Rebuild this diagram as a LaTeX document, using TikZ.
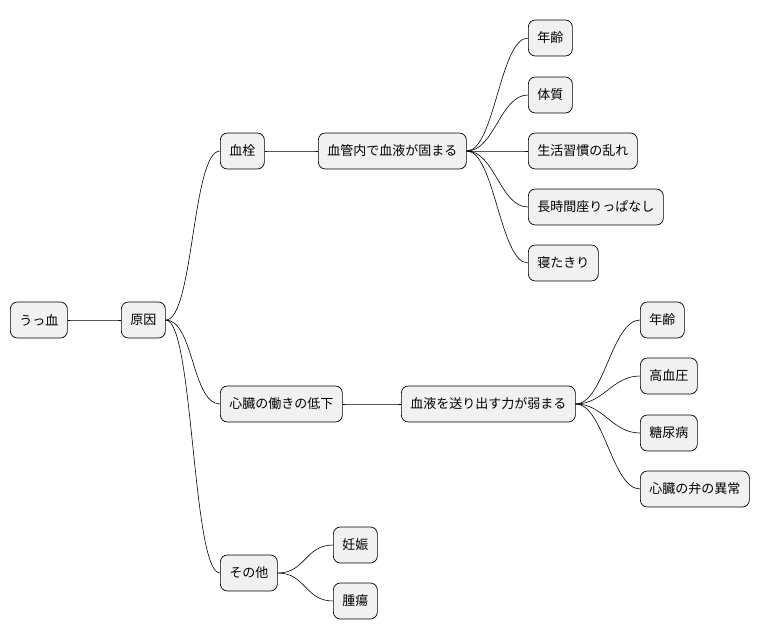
\documentclass[tikz,border=0pt]{standalone}
\usepackage{fontspec}
\newfontfamily\cjk{Noto Sans CJK JP}
\begin{document}
\begin{tikzpicture}[x=1pt,y=-1pt,
  box/.style={draw=black,fill={rgb,255:red,241;green,241;blue,241},rounded corners=7pt,minimum height=36pt,inner xsep=9pt,anchor=west,font=\cjk\fontsize{13}{15}\selectfont,line width=0.7pt},
  ln/.style={line width=0.6pt}]
\useasboundingbox (0,0) rectangle (768,640);
\node[box] (r) at (10,320) {うっ血};
\node[box] (c) at (121,320) {原因};
\node[box] (a) at (220,151) {血栓};
\node[box] (a1) at (318,151) {血管内で血液が固まる};
\node[box] (a11) at (528,38) {年齢};
\node[box] (a12) at (528,95) {体質};
\node[box] (a13) at (528,151) {生活習慣の乱れ};
\node[box] (a14) at (528,207) {長時間座りっぱなし};
\node[box] (a15) at (528,263) {寝たきり};
\node[box] (b) at (220,404) {心臓の働きの低下};
\node[box] (b1) at (401,404) {血液を送り出す力が弱まる};
\node[box] (b11) at (640,320) {年齢};
\node[box] (b12) at (640,376) {高血圧};
\node[box] (b13) at (640,433) {糖尿病};
\node[box] (b14) at (640,489) {心臓の弁の異常};
\node[box] (d) at (220,573) {その他};
\node[box] (d1) at (333,545) {妊娠};
\node[box] (d2) at (333,601) {腫瘍};
\foreach \p/\q in {r/c,c/a,c/b,c/d,a/a1,a1/a11,a1/a12,a1/a13,a1/a14,a1/a15,b/b1,b1/b11,b1/b12,b1/b13,b1/b14,d/d1,d/d2}
  \draw[ln] (\p.east) .. controls +(28,0) and +(-28,0) .. (\q.west);
\end{tikzpicture}
\end{document}
